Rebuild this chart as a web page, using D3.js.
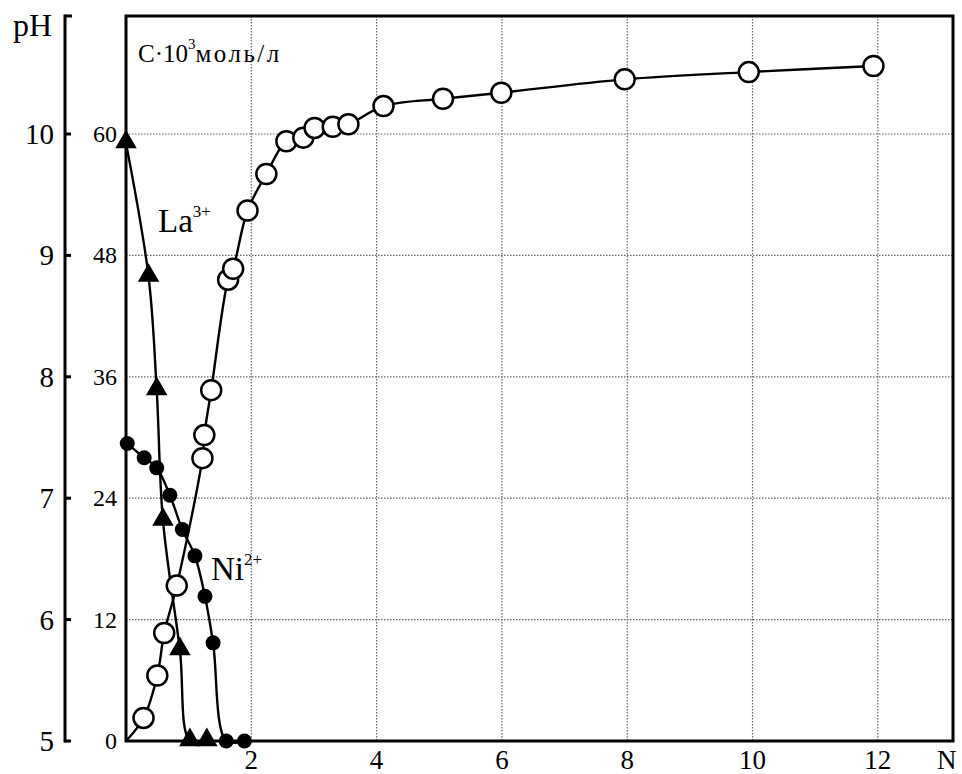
<!DOCTYPE html>
<html>
<head>
<meta charset="utf-8">
<script src="https://cdn.jsdelivr.net/npm/d3@7"></script>
<style>
  body { margin: 0; background: #fff; }
  svg { display: block; }
  text { font-family: "Liberation Serif", "Times New Roman", serif; fill: #000; }
  .grid { stroke: #666; stroke-width: 1.2; stroke-dasharray: 1.5,1.5; }
  .curve { fill: none; stroke: #000; stroke-width: 2.4; }
</style>
</head>
<body>
<svg id="chart"></svg>
<script>
// pH titration curve (open circles), N from 0 (origin point has no marker)
var phN      = [0, 0.28, 0.50, 0.61, 0.81, 1.22, 1.25, 1.36, 1.63, 1.71, 1.94, 2.24, 2.56, 2.83, 3.01, 3.30, 3.55, 4.11, 5.06, 5.99, 7.96, 9.94, 11.93];
var phValues = [5.0, 5.19, 5.54, 5.89, 6.28, 7.33, 7.52, 7.89, 8.80, 8.89, 9.37, 9.67, 9.94, 9.97, 10.05, 10.06, 10.08, 10.23, 10.29, 10.34, 10.45, 10.51, 10.56];

// La3+ concentration, C*10^3 mol/l (filled triangles)
var laN = [0, 0.36, 0.49, 0.59, 0.86, 1.02, 1.29];
var laC = [59.1, 45.9, 34.7, 21.8, 9.0, 0, 0];

// Ni2+ concentration (filled circles)
var niN = [0.02, 0.29, 0.49, 0.70, 0.90, 1.10, 1.26, 1.39, 1.60, 1.89];
var niC = [29.4, 28.0, 27.0, 24.3, 20.9, 18.3, 14.3, 9.7, 0, 0];

var xTicks  = [2, 4, 6, 8, 10, 12];
var cTicks  = [0, 12, 24, 36, 48, 60];
var phTicks = [5, 6, 7, 8, 9, 10];

// note: "top" is taken by window.top, so plot edges get their own names
var width = 962,
    height = 774,
    plotL = 126, plotR = 953, plotT = 16, plotB = 741,
    phAxisX = 65;

var svg = d3.select("#chart")
            .attr("width", width)
            .attr("height", height);

var x = d3.scaleLinear()
          .domain([0, 13.2])
          .range([plotL, plotR]);

var yC = d3.scaleLinear()
           .domain([0, 60])
           .range([plotB, 134]);

var yPH = d3.scaleLinear()
            .domain([5, 10])
            .range([plotB, 134]);

// grid
svg.selectAll("line.vgrid")
   .data(xTicks)
   .enter().append("line")
     .attr("class", "grid")
     .attr("x1", function(d) { return x(d); })
     .attr("x2", function(d) { return x(d); })
     .attr("y1", plotT)
     .attr("y2", plotB);

svg.selectAll("line.hgrid")
   .data(cTicks.filter(function(d) { return d > 0; }))
   .enter().append("line")
     .attr("class", "grid")
     .attr("x1", plotL)
     .attr("x2", plotR)
     .attr("y1", function(d) { return yC(d); })
     .attr("y2", function(d) { return yC(d); });

// frame
svg.append("rect")
   .attr("x", plotL).attr("y", plotT)
   .attr("width", plotR - plotL).attr("height", plotB - plotT)
   .attr("fill", "none").attr("stroke", "#000").attr("stroke-width", 3);

// outer pH axis
svg.append("line")
   .attr("x1", phAxisX).attr("x2", phAxisX)
   .attr("y1", plotT - 1.5).attr("y2", plotB + 1.5)
   .attr("stroke", "#000").attr("stroke-width", 3);
svg.append("line")
   .attr("x1", phAxisX).attr("x2", phAxisX + 7)
   .attr("y1", plotT).attr("y2", plotT)
   .attr("stroke", "#000").attr("stroke-width", 3);
svg.selectAll("line.phtick")
   .data(phTicks)
   .enter().append("line")
     .attr("x1", phAxisX).attr("x2", phAxisX + 6)
     .attr("y1", function(d) { return yPH(d); })
     .attr("y2", function(d) { return yPH(d); })
     .attr("stroke", "#000").attr("stroke-width", 3);

svg.selectAll("text.ph")
   .data(phTicks)
   .enter().append("text")
     .attr("x", 54)
     .attr("y", function(d) { return yPH(d) + 10; })
     .attr("text-anchor", "end")
     .style("font-size", "29px")
     .text(function(d) { return d; });

svg.append("text")
   .attr("x", 13).attr("y", 36)
   .style("font-size", "32px")
   .text("pH");

// C labels
svg.selectAll("text.c")
   .data(cTicks)
   .enter().append("text")
     .attr("x", 117)
     .attr("y", function(d) { return yC(d) + 8; })
     .attr("text-anchor", "end")
     .style("font-size", "24px")
     .text(function(d) { return d; });

// N labels
svg.selectAll("text.n")
   .data(xTicks)
   .enter().append("text")
     .attr("x", function(d) { return x(d); })
     .attr("y", 769)
     .attr("text-anchor", "middle")
     .style("font-size", "27px")
     .text(function(d) { return d; });

svg.append("text")
   .attr("x", 937).attr("y", 769)
   .style("font-size", "27px")
   .text("N");

// C*10^3 mol/l label
var ct = svg.append("text").attr("x", 138).attr("y", 62).style("font-size", "25px");
ct.append("tspan").text("C·10");
ct.append("tspan").attr("dy", -13).style("font-size", "15px").text("3");
ct.append("tspan").attr("dy", 13).style("letter-spacing", "2.5px").text("моль/л");

// ion labels
var la = svg.append("text").attr("x", 158).attr("y", 232).style("font-size", "33px");
la.append("tspan").text("La");
la.append("tspan").attr("dy", -15).style("font-size", "17px").text("3+");

var ni = svg.append("text").attr("x", 211).attr("y", 580).style("font-size", "33px");
ni.append("tspan").text("Ni");
ni.append("tspan").attr("dy", -15).style("font-size", "17px").text("2+");

// curves
var curve = d3.curveCatmullRom.alpha(0.5);

var phData = phN.map(function(d, i) { return { n: d, v: phValues[i] }; });
var laData = laN.map(function(d, i) { return { n: d, v: laC[i] }; });
var niData = niN.map(function(d, i) { return { n: d, v: niC[i] }; });

var phLine = d3.line().curve(curve)
               .x(function(d) { return x(d.n); })
               .y(function(d) { return yPH(d.v); });
var cLine = d3.line().curve(curve)
              .x(function(d) { return x(d.n); })
              .y(function(d) { return yC(d.v); });

svg.append("path").attr("class", "curve").attr("d", cLine(laData));
svg.append("path").attr("class", "curve").attr("d", cLine(niData));
svg.append("path").attr("class", "curve").attr("d", phLine(phData));

// markers
svg.selectAll("path.tri")
   .data(laData)
   .enter().append("path")
     .attr("d", d3.symbol().type(d3.symbolTriangle).size(200))
     .attr("transform", function(d) { return "translate(" + x(d.n) + "," + (yC(d.v) - 1) + ")"; })
     .attr("fill", "#000");

svg.selectAll("circle.ni")
   .data(niData)
   .enter().append("circle")
     .attr("cx", function(d) { return x(d.n); })
     .attr("cy", function(d) { return yC(d.v); })
     .attr("r", 7.5)
     .attr("fill", "#000");

svg.selectAll("circle.ph")
   .data(phData.slice(1))
   .enter().append("circle")
     .attr("cx", function(d) { return x(d.n); })
     .attr("cy", function(d) { return yPH(d.v); })
     .attr("r", 10)
     .attr("fill", "#fff")
     .attr("stroke", "#000")
     .attr("stroke-width", 2.5);
</script>
</body>
</html>
